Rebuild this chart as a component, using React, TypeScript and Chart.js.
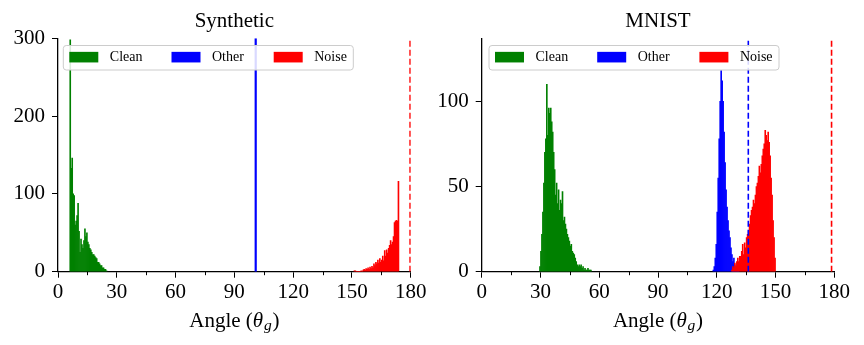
import React, { useEffect, useRef } from "react";
import { Chart, registerables } from "chart.js";

Chart.register(...registerables);

const FONT = "'Liberation Serif', 'Times New Roman', Times, serif";

// ---------- data ----------
const BIN_WIDTH = 0.5;
const X_MIN = 0;
const X_MAX = 180;
const X_MAJOR_STEP = 30;
const X_MINOR_TICKS = [15, 45, 75, 105, 135, 165];
const LEGEND_LABELS = ["Clean", "Other", "Noise"];
const SERIES_COLORS = ["#008000", "#0000ff", "#ff0000"];
const TITLES = ["Synthetic", "MNIST"];

// Synthetic panel
const SYN_Y_MAX = 300;
const SYN_Y_STEP = 100;
const SYN_CLEAN_START = 6.0;
const SYN_CLEAN = [
  298, 133, 146, 100, 98, 60, 65, 72, 88, 52, 25, 42, 35, 30, 40, 55, 45, 50, 38, 35,
  30, 28, 25, 22, 22, 20, 18, 17, 12, 12, 10, 8, 8, 5, 5, 3, 3, 1,
];
const SYN_NOISE_START = 151.0;
const SYN_NOISE = [
  1, 1, 0, 0, 0, 0, 0, 1, 0, 2, 3, 2, 4, 3, 5, 3, 6, 4, 7, 5, 10, 8, 12, 10, 15, 11,
  17, 12, 15, 20, 14, 27, 20, 28, 24, 30, 34, 40, 35, 38, 45, 63, 65, 66, 65, 116,
];
const SYN_OTHER_LINE = 100.9;
const SYN_NOISE_LINE = 179.7;

// MNIST panel
const MN_Y_MAX = 137;
const MN_Y_STEP = 50;
const MN_CLEAN_START = 29.5;
const MN_CLEAN = [
  3, 12, 22, 35, 52, 70, 78, 110, 80, 96, 93, 96, 88, 82, 70, 60, 45, 52, 40, 48, 36,
  42, 40, 47, 30, 32, 28, 25, 22, 20, 18, 15, 16, 12, 11, 10, 8, 6, 4, 3, 4, 3, 4, 2,
  3, 1, 2, 1, 1, 2, 1, 1, 1,
];
const MN_OTHER_START = 118.0;
const MN_OTHER = [
  1, 3, 8, 16, 35, 55, 78, 100, 118, 112, 100, 82, 64, 48, 38, 30, 24, 20, 14, 10, 6,
  8, 4, 2, 3, 1, 1,
];
const MN_NOISE_START = 127.5;
const MN_NOISE = [
  1, 3, 2, 5, 3, 6, 8, 6, 9, 9, 12, 16, 10, 17, 14, 20, 22, 24, 28, 33, 36, 38, 42, 40,
  45, 50, 52, 56, 62, 58, 63, 68, 72, 75, 83, 80, 77, 82, 76, 68, 55, 45, 30, 20, 8,
];
const MN_OTHER_LINE = 136.1;
const MN_NOISE_LINE = 178.6;

// ---------- helpers ----------
function bins(start: number, counts: number[]) {
  return counts.map((c, i) => ({ x: start + (i + 0.5) * BIN_WIDTH, y: c }));
}
function vline(x: number, yMax: number) {
  return [
    { x, y: 0 },
    { x, y: yMax },
  ];
}

function barDs(label: string, color: string, data: any[], order: number) {
  return {
    type: "bar",
    label,
    data,
    backgroundColor: color,
    borderWidth: 0,
    grouped: false,
    barPercentage: 1,
    categoryPercentage: 1,
    order,
  };
}
function lineDs(color: string, data: any[], dashed: boolean, width: number) {
  return {
    type: "line",
    label: "",
    data,
    borderColor: color,
    borderWidth: width,
    borderDash: dashed ? [6, 3] : [],
    pointRadius: 0,
    fill: false,
    tension: 0,
    order: -1,
  };
}

const minorTickPlugin = {
  id: "minorTicks",
  afterDraw(chart: any) {
    const { ctx, chartArea } = chart;
    const xs = chart.scales.x;
    ctx.save();
    ctx.strokeStyle = "#000";
    ctx.lineWidth = 1;
    X_MINOR_TICKS.forEach((v) => {
      const px = Math.round(xs.getPixelForValue(v)) + 0.5;
      ctx.beginPath();
      ctx.moveTo(px, chartArea.bottom);
      ctx.lineTo(px, chartArea.bottom + 3.5);
      ctx.stroke();
    });
    ctx.restore();
  },
};

const panelTitlePlugin = {
  id: "panelTitle",
  afterDraw(chart: any, _args: any, opts: any) {
    const { ctx, chartArea } = chart;
    ctx.save();
    ctx.fillStyle = "#000";
    ctx.font = `21px ${FONT}`;
    ctx.textAlign = "center";
    ctx.textBaseline = "alphabetic";
    ctx.fillText(opts.text, (chartArea.left + chartArea.right) / 2, 26.8);
    ctx.restore();
  },
};

const boxLegendPlugin = {
  id: "boxLegend",
  afterDraw(chart: any, _args: any, opts: any) {
    const { ctx, chartArea } = chart;
    const x0 = chartArea.left + opts.offsetX;
    const y0 = chartArea.top + opts.offsetY;
    const w = 290;
    const h = 24.5;
    ctx.save();
    ctx.beginPath();
    if (ctx.roundRect) ctx.roundRect(x0, y0, w, h, 3);
    else ctx.rect(x0, y0, w, h);
    ctx.fillStyle = "rgba(255,255,255,0.85)";
    ctx.fill();
    ctx.strokeStyle = "#cccccc";
    ctx.lineWidth = 1;
    ctx.stroke();
    const cy = y0 + h / 2 - 0.6;
    LEGEND_LABELS.forEach((lab, i) => {
      const px = x0 + 6 + i * 102.2;
      ctx.fillStyle = SERIES_COLORS[i];
      ctx.fillRect(px, cy - 5.3, 29, 10.6);
      ctx.fillStyle = "#000";
      ctx.font = `14px ${FONT}`;
      ctx.textBaseline = "middle";
      ctx.textAlign = "left";
      ctx.fillText(lab, px + 40.5, cy);
    });
    ctx.restore();
  },
};

const axisTitlePlugin = {
  id: "axisTitle",
  afterDraw(chart: any) {
    const { ctx, chartArea } = chart;
    const base = chart.height - 18.3;
    const parts = [
      { t: "Angle (", f: `21px ${FONT}`, dy: 0 },
      { t: "θ", f: `italic 21px ${FONT}`, dy: 0 },
      { t: "g", f: `italic 15.5px ${FONT}`, dy: 3 },
      { t: ")", f: `21px ${FONT}`, dy: 0 },
    ];
    ctx.save();
    let total = 0;
    const widths = parts.map((p) => {
      ctx.font = p.f;
      const w = ctx.measureText(p.t).width;
      total += w;
      return w;
    });
    total += 1.5;
    let x = (chartArea.left + chartArea.right) / 2 - total / 2;
    ctx.fillStyle = "#000";
    ctx.textBaseline = "alphabetic";
    ctx.textAlign = "left";
    parts.forEach((p, i) => {
      ctx.font = p.f;
      ctx.fillText(p.t, x, base + p.dy);
      x += widths[i] + (i === 1 || i === 2 ? 0.75 : 0);
    });
    ctx.restore();
  },
};

function makeConfig(
  title: string,
  datasets: any[],
  yMax: number,
  yStep: number,
  yWidth: number,
  rightPad: number,
  legendOffsetX: number
) {
  const tickFont = { family: FONT, size: 21 };
  return {
    type: "bar",
    data: { datasets },
    options: {
      animation: false,
      responsive: false,
      maintainAspectRatio: false,
      devicePixelRatio: 1,
      layout: { padding: { left: 0, right: rightPad, top: 38.3, bottom: 0 } },
      plugins: {
        legend: { display: false },
        tooltip: { enabled: false },
        title: { display: false },
        panelTitle: { text: title },
        boxLegend: { offsetX: legendOffsetX, offsetY: 7.2 },
      },
      scales: {
        x: {
          type: "linear",
          min: X_MIN,
          max: X_MAX,
          offset: false,
          ticks: {
            stepSize: X_MAJOR_STEP,
            autoSkip: false,
            maxRotation: 0,
            color: "#000",
            font: tickFont,
            padding: 2.3,
            includeBounds: false,
          },
          grid: {
            offset: false,
            drawOnChartArea: false,
            drawTicks: true,
            tickLength: 6,
            tickColor: "#000",
            tickWidth: 1,
          },
          border: { display: true, color: "#000", width: 1.3 },
          afterFit: (s: any) => {
            s.height = 73.3;
          },
        },
        y: {
          type: "linear",
          min: 0,
          max: yMax,
          ticks: {
            stepSize: yStep,
            color: "#000",
            font: tickFont,
            padding: 7,
            includeBounds: false,
          },
          grid: {
            drawOnChartArea: false,
            drawTicks: true,
            tickLength: 6,
            tickColor: "#000",
            tickWidth: 1,
          },
          border: { display: true, color: "#000", width: 1.3 },
          afterFit: (s: any) => {
            s.width = yWidth;
          },
        },
      },
    },
    plugins: [minorTickPlugin, panelTitlePlugin, boxLegendPlugin, axisTitlePlugin],
  };
}

function ChartCanvas({ config, left }: { config: () => any; left: number }) {
  const ref = useRef<HTMLCanvasElement | null>(null);
  useEffect(() => {
    if (!ref.current) return;
    const chart = new Chart(ref.current, config());
    return () => chart.destroy();
  }, []);
  return (
    <canvas
      ref={ref}
      width={432}
      height={345}
      style={{ position: "absolute", left, top: 0, width: 432, height: 345 }}
    />
  );
}

export default function App() {
  const synConfig = () =>
    makeConfig(
      TITLES[0],
      [
        barDs(LEGEND_LABELS[0], SERIES_COLORS[0], bins(SYN_CLEAN_START, SYN_CLEAN), 3),
        barDs(LEGEND_LABELS[2], SERIES_COLORS[2], bins(SYN_NOISE_START, SYN_NOISE), 1),
        lineDs(SERIES_COLORS[1], vline(SYN_OTHER_LINE, SYN_Y_MAX), false, 2.2),
        lineDs(SERIES_COLORS[2], vline(SYN_NOISE_LINE, SYN_Y_MAX), true, 1.6),
      ],
      SYN_Y_MAX,
      SYN_Y_STEP,
      58,
      21.3,
      5.3
    );
  const mnConfig = () =>
    makeConfig(
      TITLES[1],
      [
        barDs(LEGEND_LABELS[0], SERIES_COLORS[0], bins(MN_CLEAN_START, MN_CLEAN), 3),
        barDs(LEGEND_LABELS[1], SERIES_COLORS[1], bins(MN_OTHER_START, MN_OTHER), 2),
        barDs(LEGEND_LABELS[2], SERIES_COLORS[2], bins(MN_NOISE_START, MN_NOISE), 1),
        lineDs(SERIES_COLORS[1], vline(MN_OTHER_LINE, MN_Y_MAX), true, 1.6),
        lineDs(SERIES_COLORS[2], vline(MN_NOISE_LINE, MN_Y_MAX), true, 1.6),
      ],
      MN_Y_MAX,
      MN_Y_STEP,
      49.7,
      29.7,
      7.3
    );
  return (
    <div
      style={{
        position: "absolute",
        left: 0,
        top: 0,
        width: 864,
        height: 345,
        background: "#fff",
      }}
    >
      <ChartCanvas config={synConfig} left={0} />
      <ChartCanvas config={mnConfig} left={432} />
    </div>
  );
}
